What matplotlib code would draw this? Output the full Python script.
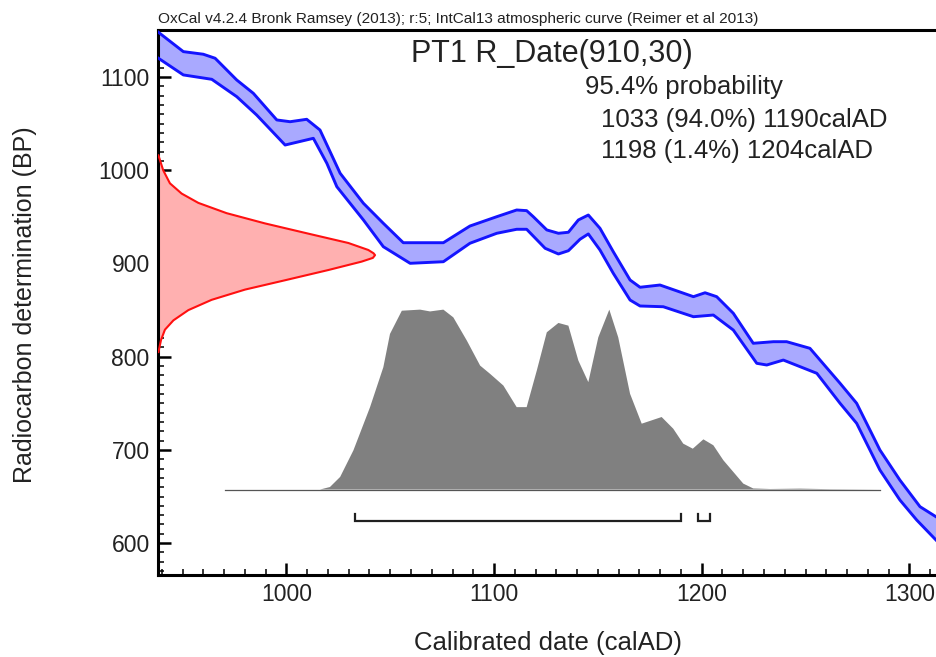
import matplotlib
matplotlib.use("Agg")
import matplotlib.pyplot as plt
import numpy as np
from matplotlib.ticker import MultipleLocator

# ---------------- data ----------------
# calibration curve band (IntCal13), upper and lower edges
band_upper_year = [938.2, 950.4, 960.0, 965.7, 976.1, 984.1, 995.4, 1001.8, 1009.8, 1016.2,
                   1025.9, 1037.1, 1046.7, 1056.3, 1075.6, 1088.4, 1101.3, 1110.9, 1115.7, 1118.9,
                   1125.4, 1131.0, 1135.8, 1140.6, 1145.4, 1151.0, 1157.4, 1165.5, 1170.3, 1179.9,
                   1196.0, 1201.6, 1207.2, 1215.2, 1224.8, 1234.5, 1240.9, 1252.1, 1266.6, 1274.6,
                   1285.8, 1295.4, 1305.1, 1312.8]
band_upper_bp = [1148.4, 1127.3, 1124.5, 1120.2, 1096.9, 1082.6, 1054.0, 1052.1, 1054.7, 1043.2,
                 996.8, 964.6, 943.1, 922.3, 922.3, 940.2, 950.2, 957.4, 956.7, 950.2,
                 936.0, 932.4, 933.5, 946.7, 952.0, 937.8, 912.7, 882.3, 874.5, 876.9,
                 864.4, 868.6, 864.4, 846.6, 814.4, 816.1, 816.1, 809.0, 771.5, 750.0,
                 699.9, 667.7, 639.1, 628.3]
band_lower_year = [938.2, 950.4, 964.1, 976.1, 985.7, 999.4, 1013.0, 1019.5, 1024.3, 1037.1,
                   1046.7, 1059.6, 1075.6, 1088.4, 1101.3, 1110.9, 1115.7, 1124.6, 1131.0, 1135.8,
                   1141.4, 1145.4, 1151.0, 1157.4, 1165.5, 1170.3, 1181.5, 1196.0, 1205.6, 1215.2,
                   1226.5, 1231.3, 1239.3, 1255.4, 1266.6, 1274.6, 1285.8, 1295.4, 1303.5, 1312.8]
band_lower_bp = [1120.5, 1102.3, 1097.6, 1079.0, 1059.3, 1027.1, 1034.3, 1007.5, 982.4, 946.7,
                 918.0, 900.2, 901.9, 921.7, 932.4, 936.7, 936.7, 916.3, 910.2, 913.7,
                 926.0, 931.7, 914.5, 889.5, 860.8, 854.4, 853.6, 842.9, 844.7, 828.6,
                 792.9, 791.1, 796.4, 782.2, 750.0, 728.5, 678.4, 646.3, 624.8, 603.3]

# calibrated (posterior) distribution, relative probability
hist_year = [970.5, 1016.2, 1021.0, 1025.9, 1032.3, 1040.3, 1046.7, 1049.9, 1055.6, 1064.4,
             1069.2, 1075.6, 1080.4, 1086.9, 1093.3, 1098.1, 1104.5, 1110.9, 1115.7, 1120.6,
             1125.4, 1131.0, 1135.8, 1140.6, 1145.4, 1150.2, 1155.5, 1159.8, 1165.5, 1171.1,
             1180.7, 1186.3, 1191.1, 1195.7, 1200.8, 1205.6, 1210.4, 1220.0, 1224.8, 1232.9,
             1247.3, 1261.7, 1285.8]
hist_prob = [0, 0, 0.014, 0.07, 0.218, 0.458, 0.68, 0.865, 0.994, 1.0,
             0.99, 1.0, 0.957, 0.828, 0.689, 0.643, 0.578, 0.458, 0.458, 0.662,
             0.874, 0.926, 0.911, 0.717, 0.597, 0.846, 1.0, 0.846, 0.532, 0.366,
             0.403, 0.338, 0.255, 0.227, 0.279, 0.246, 0.163, 0.033, 0.006, 0.003,
             0.005, 0.002, 0]

# radiocarbon measurement R_Date(910,30), relative probability
rdate_bp = [1016, 1000, 986, 975, 965, 954, 943, 932, 922, 914.5, 911, 909, 906, 902, 893,
            882, 872, 861, 850, 839, 829, 818, 805]
rdate_prob = [0.002, 0.024, 0.055, 0.109, 0.186, 0.316, 0.493, 0.693, 0.877, 0.969, 0.993, 1.0,
              0.99, 0.938, 0.785, 0.585, 0.401, 0.247, 0.140, 0.071, 0.032, 0.014, 0.002]

# 95.4% ranges
range_start = [1033, 1198]
range_end = [1190, 1204]

x_ticks = [1000, 1100, 1200, 1300]
y_ticks = [600, 700, 800, 900, 1000, 1100]

header = "OxCal v4.2.4 Bronk Ramsey (2013); r:5; IntCal13 atmospheric curve (Reimer et al 2013)"
title = "PT1 R_Date(910,30)"
prob_lines = ["95.4% probability", "1033 (94.0%) 1190calAD", "1198 (1.4%) 1204calAD"]

# ---------------- layout / style ----------------
W, H = 936, 657
XLIM = (938.2, 1312.8)
YLIM = (565.8, 1150.5)
HIST_BASE = 657.5
HIST_SCALE = 193.0
RED_SCALE = 104.5
BR_Y = 623.7
BR_TICK = 7.5

plt.rcParams['font.family'] = ['Liberation Sans', 'DejaVu Sans']

fig = plt.figure(figsize=(W / 100, H / 100), dpi=100)
ax = fig.add_axes([158 / W, (H - 575) / H, (W - 158) / W + 0.01, (575 - 30) / H])
ax.set_xlim(XLIM[0], XLIM[1] + 0.01 * W / (W - 158) * (XLIM[1] - XLIM[0]))
ax.set_ylim(*YLIM)

# calibration band
poly_x = list(band_upper_year) + list(band_lower_year[::-1])
poly_y = list(band_upper_bp) + list(band_lower_bp[::-1])
ax.fill(poly_x, poly_y, facecolor='#a9a9ff', edgecolor='none', zorder=2)
ax.plot(band_upper_year, band_upper_bp, color='#1414ff', lw=2.1, zorder=3,
        solid_joinstyle='round')
ax.plot(band_lower_year, band_lower_bp, color='#1414ff', lw=2.1, zorder=3,
        solid_joinstyle='round')

# radiocarbon date distribution on the y axis
rp = np.array(rdate_prob)
ax.fill_betweenx(rdate_bp, XLIM[0], XLIM[0] + rp * RED_SCALE, facecolor='#ffb0b0',
                 edgecolor='none', zorder=2)
ax.plot(XLIM[0] + rp * RED_SCALE, rdate_bp, color='#ff1010', lw=1.5, zorder=3,
        solid_joinstyle='round')

# calibrated distribution
hp = np.array(hist_prob)
ax.fill_between(hist_year, HIST_BASE, HIST_BASE + hp * HIST_SCALE, facecolor='#808080',
                edgecolor='none', zorder=2)
ax.plot([hist_year[0], hist_year[-1]], [HIST_BASE, HIST_BASE], color='#555555', lw=0.9, zorder=2)

# range brackets
for s, e in zip(range_start, range_end):
    ax.plot([s, s, e, e], [BR_Y + BR_TICK, BR_Y, BR_Y, BR_Y + BR_TICK], color='#202020',
            lw=1.6, zorder=3, solid_joinstyle='miter')

# axes styling
for side in ['left', 'bottom', 'top']:
    ax.spines[side].set_linewidth(2.2)
    ax.spines[side].set_color('black')
ax.spines['right'].set_visible(False)
ax.set_xticks(x_ticks)
ax.set_yticks(y_ticks)
ax.xaxis.set_minor_locator(MultipleLocator(10))
ax.yaxis.set_minor_locator(MultipleLocator(10))
ax.tick_params(which='major', direction='in', length=9, width=1.8, labelsize=16.5,
               pad=6, top=False, right=False, colors='black')
ax.tick_params(which='minor', direction='in', length=4, width=1.1, top=False, right=False)
for lab in ax.get_xticklabels() + ax.get_yticklabels():
    lab.set_color('#222222')

def fx(px):
    return px / W

def fy(py):
    return 1 - py / H

fig.text(fx(548), fy(643), "Calibrated date (calAD)", ha='center', va='center',
         fontsize=18.5, color='#222222')
fig.text(fx(25), fy(305), "Radiocarbon determination (BP)", ha='center', va='center',
         rotation=90, fontsize=18, color='#222222')

fig.text(fx(158), fy(23), header, ha='left', va='baseline', fontsize=11.1,
         color='#222222')
fig.text(fx(552), fy(62), title, ha='center', va='baseline', fontsize=22, color='#222222')
fig.text(fx(585), fy(94), prob_lines[0], ha='left', va='baseline', fontsize=18.5, color='#222222')
fig.text(fx(601), fy(127), prob_lines[1], ha='left', va='baseline', fontsize=18.5, color='#222222')
fig.text(fx(601), fy(158), prob_lines[2], ha='left', va='baseline', fontsize=18.5, color='#222222')

fig.savefig("out.png", dpi=100)
